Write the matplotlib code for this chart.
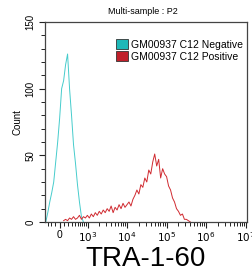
import numpy as np
import matplotlib
matplotlib.use("Agg")
import matplotlib.pyplot as plt
from matplotlib.patches import Patch

plt.rcParams['font.family'] = ['Liberation Sans', 'DejaVu Sans']

# histogram counts, bins are 0.05 wide in display (decade) units
neg_start = 1.95
neg_counts = [0, 7, 15, 22, 30, 45, 60, 78, 100, 106, 118, 126, 100, 80, 58, 44, 28, 15, 4, 0]

pos_start = 2.40
pos_counts = [1, 2, 1, 3, 2, 4, 2, 3, 5, 2, 4, 3, 5, 3, 6, 4, 7, 5, 8, 6,
              9, 7, 10, 8, 12, 7, 11, 9, 13, 10, 14, 11, 13, 15, 12, 17, 20, 24, 21, 28,
              26, 33, 30, 39, 36, 45, 51, 42, 47, 33, 40, 36, 34, 27, 24, 18, 15, 10, 8, 5,
              6, 2, 2, 1, 0]

labels = ["GM00937 C12 Negative", "GM00937 C12 Positive"]
line_colors = ["#46cccc", "#d02a30"]
patch_colors = ["#1fb8b8", "#c0202a"]
bin_w = 0.05


def biex(v):
    # arcsinh-like display transform, ~log10 above 1e3
    return 2.3 + np.arcsinh(np.asarray(v, dtype=float) / 400.0) / np.log(10)


fig = plt.figure(figsize=(2.52, 2.78), dpi=100)
ax = fig.add_axes([45 / 252, 1 - 222 / 278, 202 / 252, 200 / 278])

for start, counts, c in [(neg_start, neg_counts, line_colors[0]),
                         (pos_start, pos_counts, line_colors[1])]:
    x = start + bin_w * np.arange(len(counts))
    ax.plot(x, counts, color=c, lw=0.7)

ax.set_xlim(1.93, 7.03)
ax.set_ylim(0, 150)

major_vals = [0, 1e3, 1e4, 1e5, 1e6, 1e7]
ax.set_xticks(biex(major_vals))
ax.set_xticklabels(["0", "$10^3$", "$10^4$", "$10^5$", "$10^6$", "$10^7$"], fontsize=7.5)
minor_vals = [v for v in range(-300, 1000, 100) if v != 0]
for d in range(3, 7):
    minor_vals += [k * 10 ** d for k in range(2, 10)]
ax.set_xticks(biex(minor_vals), minor=True)

ax.set_yticks([0, 50, 100, 150])
ax.set_yticks(np.arange(0, 151, 10), minor=True)
ax.set_yticklabels(["0", "50", "100", "150"], rotation=90, va="center", fontsize=7)

ax.tick_params(which="major", length=4, width=0.8, color="#222222", pad=2)
ax.tick_params(which="minor", length=3, width=0.7, color="#222222")
ax.tick_params(axis="y", which="major", pad=3)
for s in ax.spines.values():
    s.set_color("#444444")
    s.set_linewidth(0.9)

ax.set_ylabel("Count", fontsize=7, labelpad=2)
ax.set_xlabel("TRA-1-60", fontsize=20, labelpad=1)
fig.text(0.565, 0.957, "Multi-sample : P2", ha="center", va="center", fontsize=6.5)

handles = [Patch(facecolor=patch_colors[i], edgecolor="#333333", lw=0.6) for i in range(2)]
ax.legend(handles, labels, loc="upper right", bbox_to_anchor=(1.0, 0.935), frameon=False,
          fontsize=7.5, handlelength=1.1, handleheight=1.1, handletextpad=0.3,
          labelspacing=0.15, borderaxespad=0.0)

fig.savefig("out.png", dpi=100)
